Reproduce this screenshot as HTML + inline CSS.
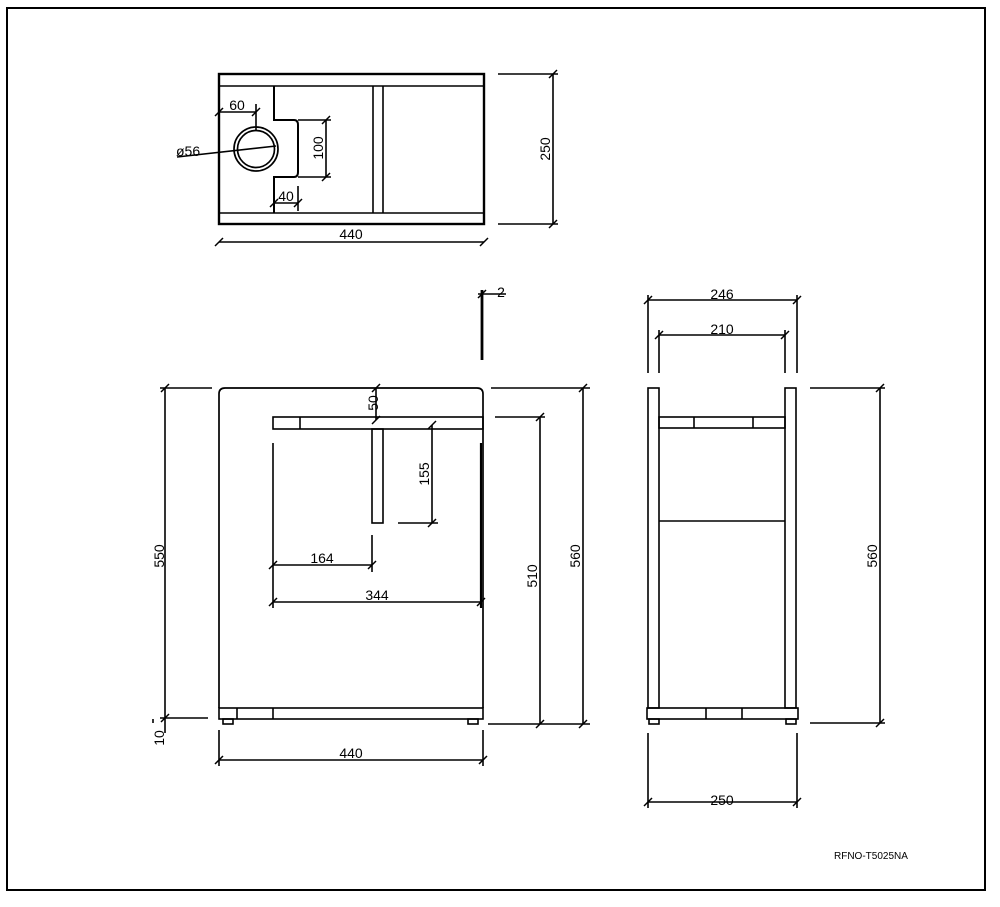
<!DOCTYPE html>
<html><head><meta charset="utf-8"><style>
html,body{margin:0;padding:0;background:#fff;}
svg{display:block;}
text{font-family:"Liberation Sans",sans-serif;font-size:14px;fill:#000;}
</style></head><body>
<svg width="1000" height="907" viewBox="0 0 1000 907" xmlns="http://www.w3.org/2000/svg">
<rect x="7" y="8" width="978" height="882" fill="none" stroke="#000" stroke-width="2"/>
<g stroke="#000" fill="none" stroke-width="1.6">
<!-- TOP VIEW -->
<rect x="219" y="74" width="265" height="150" stroke-width="2.4"/>
<line x1="219" y1="86" x2="484" y2="86"/>
<line x1="219" y1="213" x2="484" y2="213"/>
<line x1="373" y1="86" x2="373" y2="213"/>
<line x1="383" y1="86" x2="383" y2="213"/>
<path d="M274 86 V120 H294 Q298 120 298 125 V172 Q298 177 294 177 H274 V213" stroke-width="2"/>
<circle cx="256" cy="149" r="22" stroke-width="1.7"/>
<circle cx="256" cy="149" r="18.5" stroke-width="1.7"/>
<line x1="219" y1="112" x2="256" y2="112"/><line x1="256" y1="104" x2="256" y2="130"/>
<line x1="177" y1="157" x2="276" y2="146"/>
<line x1="298" y1="120" x2="331" y2="120"/><line x1="298" y1="177" x2="331" y2="177"/>
<line x1="326" y1="120" x2="326" y2="177"/>
<line x1="274" y1="203" x2="298" y2="203"/><line x1="298" y1="186" x2="298" y2="211"/>
<line x1="498" y1="74" x2="558" y2="74"/><line x1="498" y1="224" x2="558" y2="224"/>
<line x1="553" y1="74" x2="553" y2="224"/>
<line x1="219" y1="242" x2="484" y2="242"/>
<!-- FRONT VIEW -->
<path d="M219 708 V394 Q219 388 225 388 H477 Q483 388 483 394 V708" stroke-width="1.7"/>
<rect x="219" y="708" width="264" height="11"/>
<line x1="237" y1="708" x2="237" y2="719"/><line x1="273" y1="708" x2="273" y2="719"/>
<rect x="223" y="719" width="10" height="5"/><rect x="468" y="719" width="10" height="5"/>
<rect x="273" y="417" width="210" height="12"/>
<line x1="300" y1="417" x2="300" y2="429"/>
<rect x="372" y="429" width="11" height="94"/>
<line x1="273" y1="443" x2="273" y2="608"/>
<line x1="481" y1="443" x2="481" y2="608" stroke-width="2.2"/>
<line x1="273" y1="565" x2="372" y2="565"/><line x1="372" y1="535" x2="372" y2="572"/>
<line x1="273" y1="602" x2="481" y2="602"/>
<line x1="398" y1="523" x2="438" y2="523"/><line x1="432" y1="425" x2="432" y2="523"/>
<line x1="376" y1="388" x2="376" y2="420"/>
<line x1="482" y1="290" x2="482" y2="360" stroke-width="2.8"/>
<line x1="478" y1="294" x2="506" y2="294"/>
<line x1="160" y1="388" x2="212" y2="388"/><line x1="165" y1="388" x2="165" y2="718"/>
<line x1="160" y1="718" x2="208" y2="718"/><line x1="165" y1="718" x2="165" y2="733"/>
<line x1="153" y1="719" x2="153" y2="723"/>
<line x1="495" y1="417" x2="545" y2="417"/><line x1="540" y1="417" x2="540" y2="724"/>
<line x1="491" y1="388" x2="590" y2="388"/><line x1="488" y1="724" x2="590" y2="724"/>
<line x1="583" y1="388" x2="583" y2="724"/>
<line x1="219" y1="730" x2="219" y2="766"/><line x1="483" y1="730" x2="483" y2="766"/>
<line x1="219" y1="760" x2="483" y2="760"/>
<!-- SIDE VIEW -->
<rect x="648" y="388" width="11" height="320"/>
<rect x="785" y="388" width="11" height="320"/>
<rect x="659" y="417" width="126" height="11"/>
<line x1="694" y1="417" x2="694" y2="428"/><line x1="753" y1="417" x2="753" y2="428"/>
<line x1="659" y1="521" x2="785" y2="521"/>
<rect x="647" y="708" width="151" height="11"/>
<line x1="706" y1="708" x2="706" y2="719"/><line x1="742" y1="708" x2="742" y2="719"/>
<rect x="649" y="719" width="10" height="5"/><rect x="786" y="719" width="10" height="5"/>
<line x1="648" y1="295" x2="648" y2="373"/><line x1="797" y1="295" x2="797" y2="373"/>
<line x1="648" y1="300" x2="797" y2="300"/>
<line x1="659" y1="330" x2="659" y2="373"/><line x1="785" y1="330" x2="785" y2="373"/>
<line x1="659" y1="335" x2="785" y2="335"/>
<line x1="810" y1="388" x2="885" y2="388"/><line x1="810" y1="723" x2="885" y2="723"/>
<line x1="880" y1="388" x2="880" y2="723"/>
<line x1="648" y1="733" x2="648" y2="808"/><line x1="797" y1="733" x2="797" y2="808"/>
<line x1="648" y1="802" x2="797" y2="802"/>
</g>
<g stroke="#000" stroke-width="1.5">
<path d="M215 116 l8 -8 M252 116 l8 -8 M322 124 l8 -8 M322 181 l8 -8 M270 207 l8 -8 M294 207 l8 -8 M549 78 l8 -8 M549 228 l8 -8 M215 246 l8 -8 M480 246 l8 -8
M269 569 l8 -8 M368 569 l8 -8 M269 606 l8 -8 M477 606 l8 -8 M428 429 l8 -8 M428 527 l8 -8 M372 392 l8 -8 M372 424 l8 -8 M478 298 l8 -8
M161 392 l8 -8 M161 722 l8 -8 M536 421 l8 -8 M536 728 l8 -8 M579 392 l8 -8 M579 728 l8 -8 M215 764 l8 -8 M479 764 l8 -8
M644 304 l8 -8 M793 304 l8 -8 M655 339 l8 -8 M781 339 l8 -8 M876 392 l8 -8 M876 727 l8 -8 M644 806 l8 -8 M793 806 l8 -8"/>
</g>
<g>
<text x="237" y="110" text-anchor="middle">60</text>
<text x="176" y="156">ø56</text>
<text x="286" y="201" text-anchor="middle">40</text>
<text x="351" y="239" text-anchor="middle">440</text>
<text transform="translate(323,148) rotate(-90)" text-anchor="middle">100</text>
<text transform="translate(550,149) rotate(-90)" text-anchor="middle">250</text>
<text x="501" y="297" text-anchor="middle">2</text>
<text transform="translate(378,403) rotate(-90)" text-anchor="middle">50</text>
<text transform="translate(429,474) rotate(-90)" text-anchor="middle">155</text>
<text x="322" y="563" text-anchor="middle">164</text>
<text x="377" y="600" text-anchor="middle">344</text>
<text transform="translate(164,556) rotate(-90)" text-anchor="middle">550</text>
<text transform="translate(164,738) rotate(-90)" text-anchor="middle">10</text>
<text transform="translate(537,576) rotate(-90)" text-anchor="middle">510</text>
<text transform="translate(580,556) rotate(-90)" text-anchor="middle">560</text>
<text x="351" y="758" text-anchor="middle">440</text>
<text x="722" y="299" text-anchor="middle">246</text>
<text x="722" y="334" text-anchor="middle">210</text>
<text transform="translate(877,556) rotate(-90)" text-anchor="middle">560</text>
<text x="722" y="805" text-anchor="middle">250</text>
<text x="834" y="859" style="font-size:10px">RFNO-T5025NA</text>
</g>
</svg>
</body></html>
